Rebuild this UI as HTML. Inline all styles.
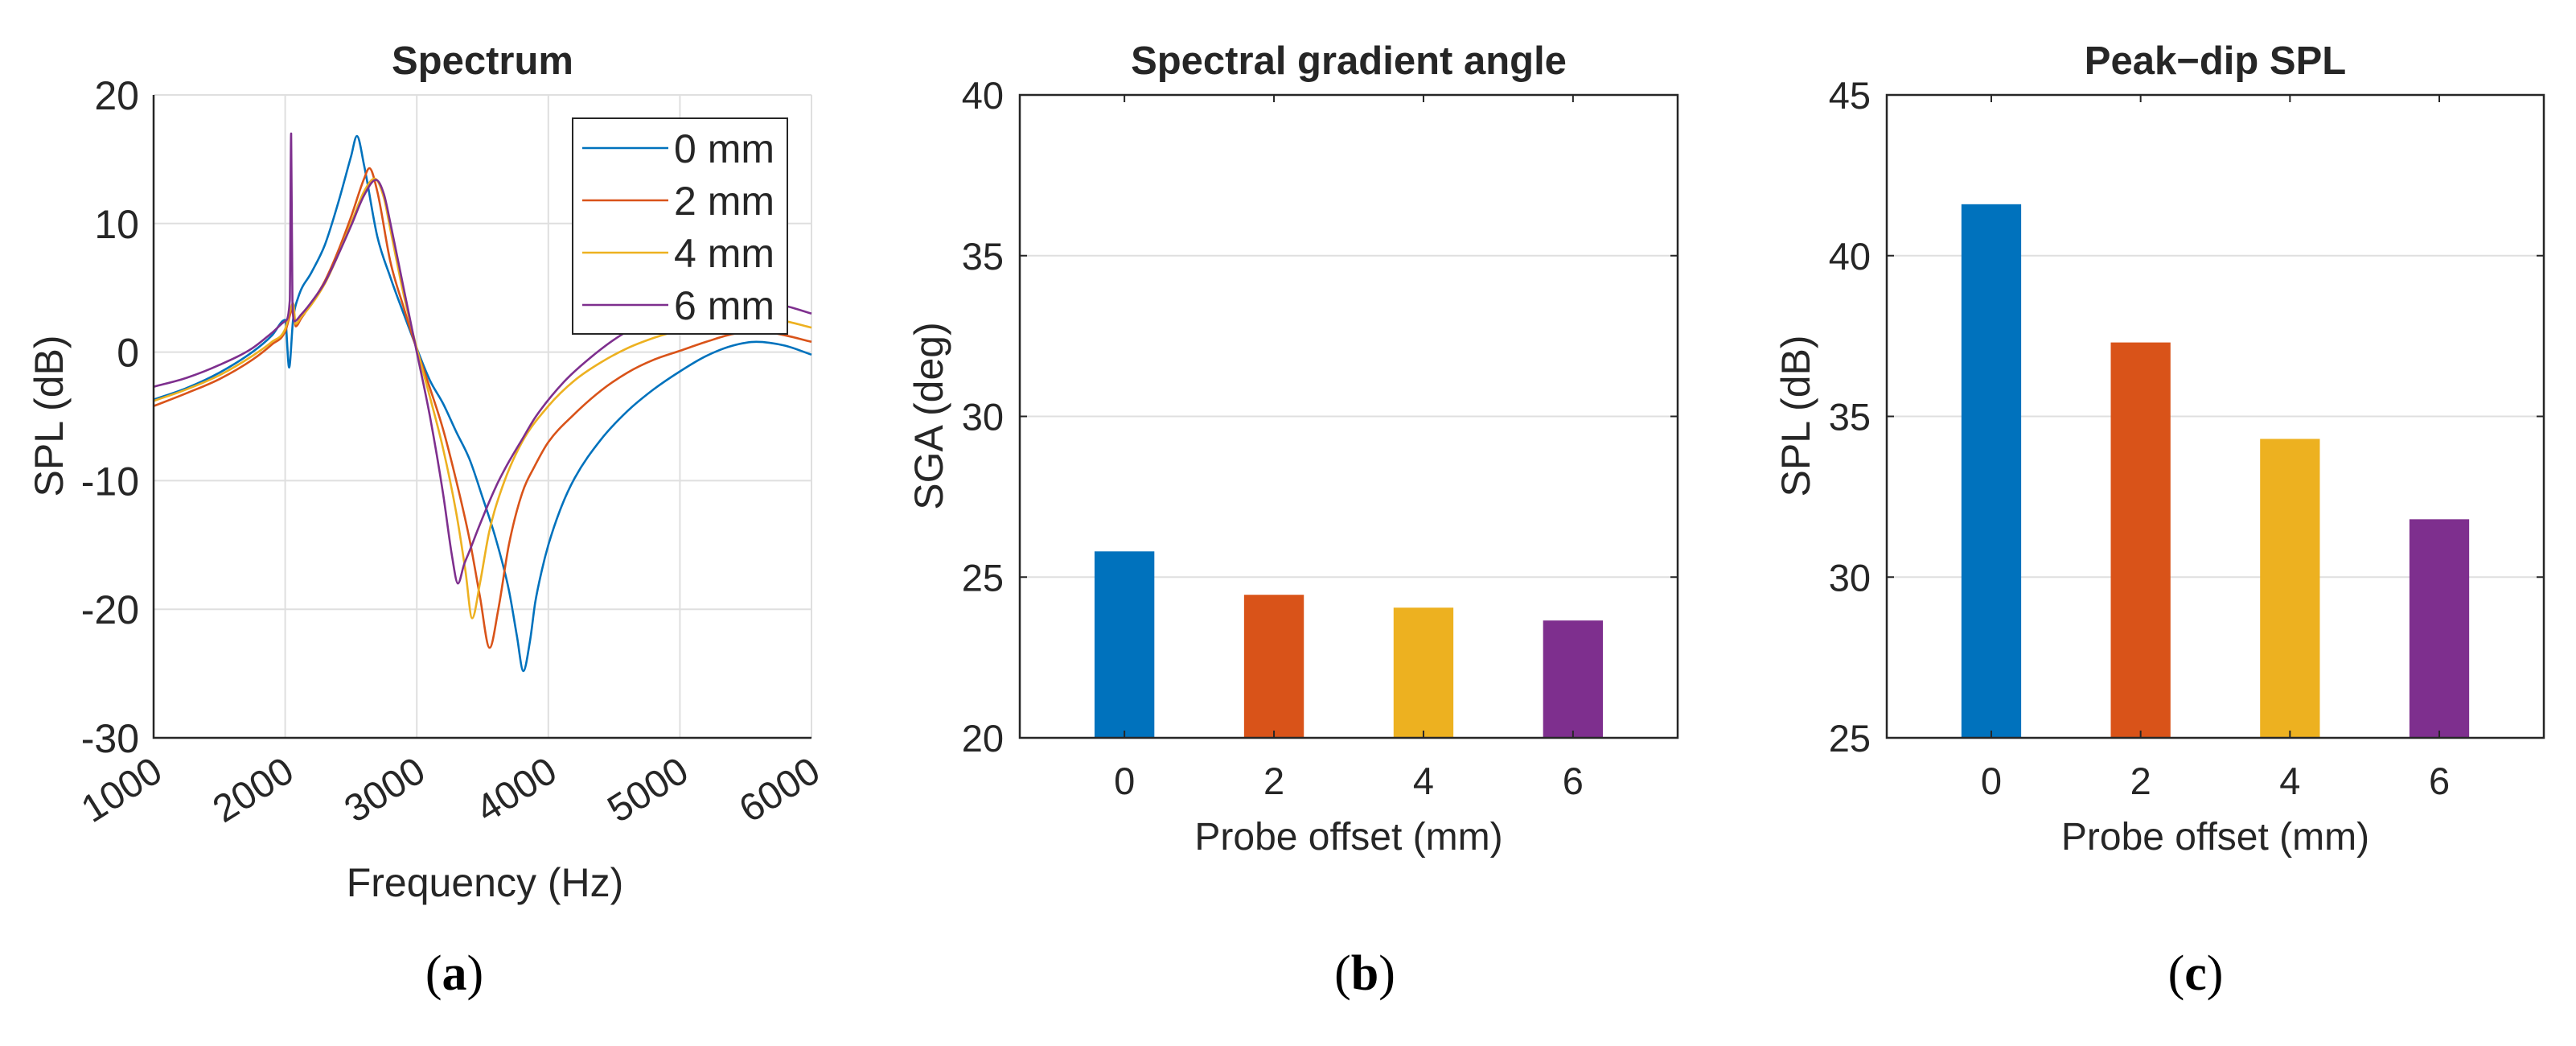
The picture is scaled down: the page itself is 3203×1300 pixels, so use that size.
<!DOCTYPE html>
<html><head><meta charset="utf-8"><style>
html,body{margin:0;padding:0;background:#fff}
svg{display:block}
text{font-family:"Liberation Sans",sans-serif;fill:#262626}
text.cap{font-family:"Liberation Serif",serif;fill:#000}
</style></head><body>
<svg id="fig" width="3203" height="1300" viewBox="0 0 3203 1300" xmlns="http://www.w3.org/2000/svg"></svg>
<script>
// ---- Spectrum data ----
const seriesNames = ["0 mm","2 mm","4 mm","6 mm"];
const f0 = [1000,1250,1500,1750,1900,2000,2030,2060,2100,2200,2300,2400,2500,2545,2600,2700,2800,2900,3000,3100,3200,3300,3400,3500,3600,3700,3760,3810,3860,3900,3950,4000,4100,4200,4400,4600,4800,5000,5200,5400,5580,5800,6000];
const s0 = [-3.7,-2.8,-1.6,0,1.3,2.5,-1.2,2.5,4.3,6.2,8.3,11.5,15.2,16.8,14.5,9,5.8,3,0.3,-2.2,-4,-6.2,-8.3,-11.3,-14.5,-18.5,-22,-24.8,-22.5,-19.5,-17,-15,-12,-9.8,-6.8,-4.6,-2.9,-1.5,-0.3,0.5,0.8,0.5,-0.2];
const f2 = [1000,1250,1500,1750,1900,2000,2040,2060,2080,2120,2200,2300,2400,2500,2600,2640,2700,2800,2900,3000,3100,3200,3300,3400,3480,3554,3620,3700,3800,3900,4000,4200,4400,4600,4800,5000,5200,5400,5600,5800,6000];
const s2 = [-4.2,-3.2,-2.1,-0.6,0.6,1.6,3.0,3.5,2.0,2.6,3.8,5.5,7.8,10.5,13.5,14.3,12.5,7,3.5,0.2,-2.8,-6,-10,-14.5,-19,-23,-20,-15,-11,-8.8,-7,-4.8,-3,-1.6,-0.6,0.1,0.8,1.4,1.6,1.3,0.8];
const f4 = [1000,1250,1500,1750,1900,2000,2040,2060,2080,2120,2200,2300,2400,2500,2600,2680,2750,2800,2900,3000,3100,3200,3300,3370,3421,3480,3550,3650,3800,4000,4200,4400,4600,4800,5000,5200,5400,5600,5800,6000];
const s4 = [-3.8,-2.9,-1.8,-0.3,0.8,1.8,3.3,3.8,2.2,2.7,3.7,5.3,7.5,10,12.5,13.5,12,9.5,4.5,0.3,-3.5,-7.5,-12.5,-17,-20.7,-18,-14,-10.5,-7,-4.2,-2.2,-0.8,0.3,1.1,1.7,2.2,2.5,2.6,2.4,1.9];
const f6 = [1000,1250,1500,1750,1900,2000,2035,2045,2055,2070,2120,2200,2300,2400,2500,2600,2690,2750,2800,2900,3000,3100,3200,3270,3313,3360,3400,3476,3600,3691,3800,3906,4120,4300,4549,4800,5000,5200,5400,5600,5800,6000];
const s6 = [-2.7,-2,-1,0.3,1.5,2.4,4,17,4,2.4,2.9,3.9,5.4,7.5,9.8,12.2,13.4,12.3,10,5,0,-5,-11,-16,-18,-16.5,-15.5,-13.5,-10.5,-8.7,-6.8,-5,-2.3,-0.6,1.3,2.6,3.4,3.9,4.1,4.0,3.6,3.0];
const specXTicks = [1000,2000,3000,4000,5000,6000];
const specYTicks = [-30,-20,-10,0,10,20];
// ---- Bar data ----
const barCats = [0,2,4,6];
const sgaVals = [25.8,24.45,24.05,23.65];
const sgaTicks = [20,25,30,35,40];
const pdVals = [41.6,37.3,34.3,31.8];
const pdTicks = [25,30,35,40,45];
const colors = ["#0072BD","#D95319","#EDB120","#7E2F8E"];

const NS="http://www.w3.org/2000/svg";
const svg=document.getElementById('fig');
function el(tag,attrs,parent,txt){const e=document.createElementNS(NS,tag);for(const k in attrs)e.setAttribute(k,attrs[k]);if(txt!==undefined)e.textContent=txt;(parent||svg).appendChild(e);return e;}
const TOP=118,BOT=917;

// monotone cubic path through pixel points
function monoPath(P){
  const n=P.length;const d=[],m=[];
  for(let i=0;i<n-1;i++)d.push((P[i+1][1]-P[i][1])/(P[i+1][0]-P[i][0]));
  m[0]=d[0];m[n-1]=d[n-2];
  for(let i=1;i<n-1;i++){m[i]=(d[i-1]*d[i]<=0)?0:(d[i-1]+d[i])/2;}
  for(let i=0;i<n-1;i++){
    if(d[i]===0){m[i]=0;m[i+1]=0;continue;}
    const a=m[i]/d[i],b=m[i+1]/d[i],s=a*a+b*b;
    if(s>9){const t=3/Math.sqrt(s);m[i]=t*a*d[i];m[i+1]=t*b*d[i];}
  }
  let s='M'+P[0][0].toFixed(1)+','+P[0][1].toFixed(1);
  for(let i=0;i<n-1;i++){
    const h=(P[i+1][0]-P[i][0])/3;
    s+='C'+(P[i][0]+h).toFixed(1)+','+(P[i][1]+m[i]*h).toFixed(1)+' '+(P[i+1][0]-h).toFixed(1)+','+(P[i+1][1]-m[i+1]*h).toFixed(1)+' '+P[i+1][0].toFixed(1)+','+P[i+1][1].toFixed(1);
  }
  return s;
}

// ===== Panel (a) =====
const aL=191,aR=1009;
const ax=v=>aL+(v-1000)/5000*(aR-aL);
const ay=v=>TOP+(20-v)/50*(BOT-TOP);
const gA=el('g',{});


el('rect',{x:aL,y:TOP,width:aR-aL,height:BOT-TOP,fill:'#fff'},gA);
specXTicks.forEach(t=>{
  const l=el('line',{x1:ax(t),x2:ax(t),y1:TOP,y2:BOT,stroke:'#dfdfdf','stroke-width':2},gA);
  
  
  const tx=el('text',{x:0,y:0,'font-size':48,'text-anchor':'end',transform:`translate(${ax(t)+14},${BOT+50}) rotate(-32)`},gA,String(t));
  
  
});
specYTicks.forEach(t=>{
  const l=el('line',{x1:aL,x2:aR,y1:ay(t),y2:ay(t),stroke:'#dfdfdf','stroke-width':2},gA);
  
  
  const tx=el('text',{x:aL-18,y:ay(t)+18,'font-size':50,'text-anchor':'end'},gA,String(t));
  
  
});
const specF=[f0,f2,f4,f6], specS=[s0,s2,s4,s6];
specF.forEach((fs,i)=>{
  const P=fs.map((f,j)=>[ax(f),ay(specS[i][j])]);
  const p=el('path',{d:monoPath(P),fill:'none',stroke:colors[i],'stroke-width':2.6,'stroke-linejoin':'round'},gA);
  
  
});
el('path',{d:`M${aL},${TOP}V${BOT}H${aR}`,fill:'none',stroke:'#262626','stroke-width':2.5},gA);
// legend
const lg=el('g',{},gA);


el('rect',{x:712,y:147,width:267,height:268,fill:'#fff',stroke:'#262626','stroke-width':2},lg);
seriesNames.forEach((n,i)=>{
  const y=184+i*65;
  const g=el('g',{},lg);
  
  
  el('line',{x1:724,x2:831,y1:y,y2:y,stroke:colors[i],'stroke-width':2.6},g);
  el('text',{x:838,y:y+18,'font-size':50,fill:'#000'},g,n);
});
const tA=el('text',{x:600,y:92,'font-size':49,'font-weight':'bold','text-anchor':'middle',fill:'#000'},gA,'Spectrum');


const ylA=el('text',{x:0,y:0,'font-size':50,'text-anchor':'middle',transform:`translate(78,517) rotate(-90)`},gA,'SPL (dB)');


const xlA=el('text',{x:603,y:1114,'font-size':50,'text-anchor':'middle'},gA,'Frequency (Hz)');


const capA=el('text',{x:565,y:1230,'font-size':62,'text-anchor':'middle','class':'cap'},gA);


capA.innerHTML='(<tspan font-weight="bold">a</tspan>)';

// ===== Bar panels =====
function barPanel(L,R,vals,ticks,title,ylabel,cap,capX,name){
  const g=el('g',{});
  
  
  const xs=v=>L+(v+1.4)/8.8*(R-L);
  const lo=ticks[0],hi=ticks[ticks.length-1];
  const ys=v=>TOP+(hi-v)/(hi-lo)*(BOT-TOP);
  ticks.forEach(t=>{
    if(t!==lo&&t!==hi){
      const l=el('line',{x1:L,x2:R,y1:ys(t),y2:ys(t),stroke:'#dfdfdf','stroke-width':2},g);
      
      
    }
    el('line',{x1:L,x2:L+9,y1:ys(t),y2:ys(t),stroke:'#262626','stroke-width':2},g);
    el('line',{x1:R,x2:R-9,y1:ys(t),y2:ys(t),stroke:'#262626','stroke-width':2},g);
    const tx=el('text',{x:L-20,y:ys(t)+17,'font-size':47,'text-anchor':'end'},g,String(t));
    
    
  });
  barCats.forEach((c,i)=>{
    const w=0.8/8.8*(R-L);
    const b=el('rect',{x:xs(c)-w/2,y:ys(vals[i]),width:w,height:ys(lo)-ys(vals[i]),fill:colors[i]},g);
    
    
    el('line',{x1:xs(c),x2:xs(c),y1:BOT,y2:BOT-9,stroke:'#262626','stroke-width':2},g);
    el('line',{x1:xs(c),x2:xs(c),y1:TOP,y2:TOP+9,stroke:'#262626','stroke-width':2},g);
    const tx=el('text',{x:xs(c),y:BOT+70,'font-size':47,'text-anchor':'middle'},g,String(c));
    
    
  });
  el('rect',{x:L,y:TOP,width:R-L,height:BOT-TOP,fill:'none',stroke:'#262626','stroke-width':2.5},g);
  const tt=el('text',{x:(L+R)/2,y:92,'font-size':49,'font-weight':'bold','text-anchor':'middle',fill:'#000'},g,title);
  
  
  const yl=el('text',{x:0,y:0,'font-size':50,'text-anchor':'middle',transform:`translate(${L-96},517) rotate(-90)`},g,ylabel);
  
  
  const xl=el('text',{x:(L+R)/2,y:1056,'font-size':48,'text-anchor':'middle'},g,'Probe offset (mm)');
  
  
  const cp=el('text',{x:capX,y:1230,'font-size':62,'text-anchor':'middle','class':'cap'},g);
  
  
  cp.innerHTML='(<tspan font-weight="bold">'+cap+'</tspan>)';
}
barPanel(1268,2086,sgaVals,sgaTicks,'Spectral gradient angle','SGA (deg)','b',1697,'sga-panel');
barPanel(2346,3163,pdVals,pdTicks,'Peak\u2212dip SPL','SPL (dB)','c',2730,'peak-dip-panel');
</script>
</body></html>
